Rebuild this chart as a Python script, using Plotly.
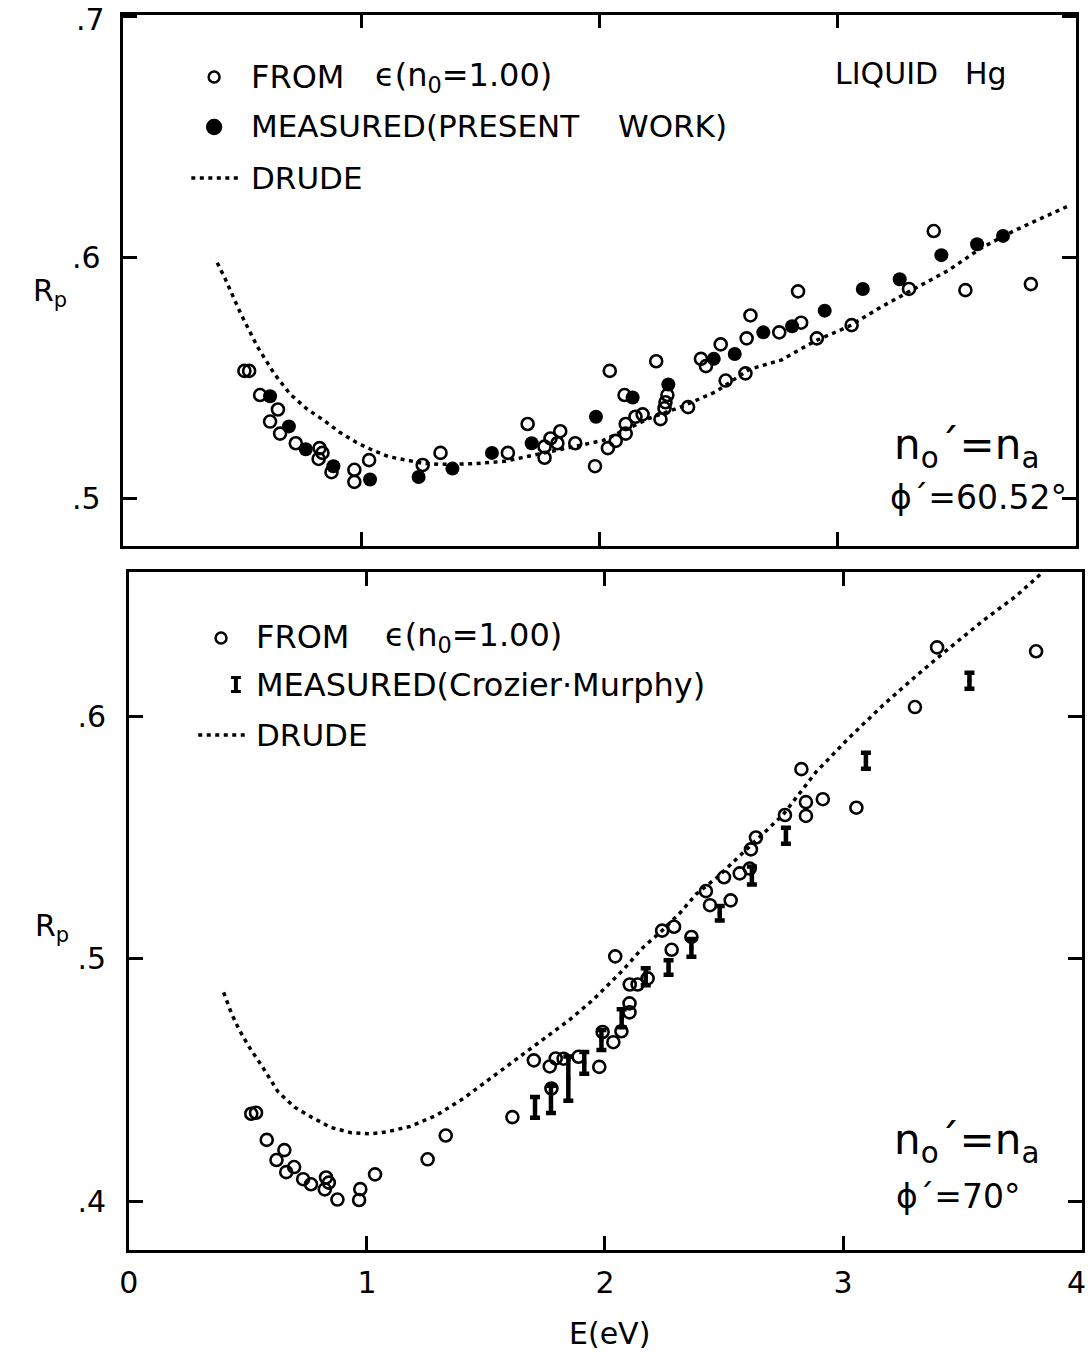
import plotly.graph_objects as go

# ---------------- Top panel (phi' = 60.52 deg) ----------------
top_open_E = [0.508, 0.528, 0.574, 0.649, 0.616, 0.658, 0.724, 0.824, 0.836, 0.820,
              0.874, 0.970, 0.970, 1.032, 1.257, 1.332, 1.615, 1.698, 1.769, 1.769,
              1.794, 1.823, 1.835, 1.898, 1.981, 2.043, 2.035, 2.068, 2.110, 2.110,
              2.151, 2.181, 2.105, 2.256, 2.273, 2.277, 2.285, 2.238, 2.372, 2.426,
              2.447, 2.509, 2.530, 2.613, 2.618, 2.634, 2.755, 2.847, 2.834, 2.913,
              3.059, 3.300, 3.537, 3.812, 3.404]
top_open_R = [0.553, 0.553, 0.543, 0.537, 0.532, 0.527, 0.523, 0.521, 0.519, 0.5165,
              0.511, 0.512, 0.507, 0.516, 0.514, 0.519, 0.519, 0.531, 0.517, 0.5216,
              0.525, 0.523, 0.528, 0.523, 0.5135, 0.553, 0.521, 0.524, 0.527, 0.531,
              0.534, 0.535, 0.543, 0.533, 0.5375, 0.540, 0.543, 0.557, 0.538, 0.558,
              0.555, 0.564, 0.549, 0.552, 0.5665, 0.576, 0.569, 0.573, 0.586, 0.5665,
              0.572, 0.587, 0.5865, 0.589, 0.611]

top_meas_E = [0.616, 0.695, 0.766, 0.882, 1.036, 1.240, 1.382, 1.548, 1.715, 1.985,
              2.139, 2.289, 2.480, 2.568, 2.688, 2.809, 2.946, 3.106, 3.261, 3.436,
              3.586, 3.695]
top_meas_R = [0.5425, 0.530, 0.5205, 0.5135, 0.508, 0.509, 0.5125, 0.519, 0.523, 0.534,
              0.542, 0.5474, 0.558, 0.560, 0.569, 0.5715, 0.578, 0.587, 0.591, 0.601,
              0.6055, 0.609]

top_drude_E = [0.394, 0.427, 0.493, 0.563, 0.634, 0.700, 0.771, 0.842, 0.908, 0.979,
               1.049, 1.115, 1.186, 1.256, 1.322, 1.464, 1.601, 1.739, 1.878, 2.015,
               2.211, 2.348, 2.487, 2.628, 2.765, 2.905, 3.046, 3.183, 3.321, 3.462,
               3.604, 3.741, 3.980]
top_drude_R = [0.5979, 0.5913, 0.5767, 0.5630, 0.5518, 0.5434, 0.5372, 0.5325, 0.5276, 0.5233,
               0.5200, 0.5174, 0.5161, 0.5147, 0.5143, 0.5145, 0.5155, 0.5183, 0.5214, 0.5242,
               0.5334, 0.5383, 0.5443, 0.5536, 0.5576, 0.5654, 0.5714, 0.5795, 0.5870, 0.5945,
               0.6040, 0.6111, 0.6219]

# ---------------- Bottom panel (phi' = 70 deg) ----------------
bot_open_E = [0.514, 0.534, 0.579, 0.653, 0.620, 0.694, 0.661, 0.732, 0.765, 0.828,
              0.840, 0.823, 0.876, 0.972, 0.967, 1.034, 1.255, 1.331, 1.611, 1.701,
              1.768, 1.793, 1.826, 1.889, 1.976, 1.775, 1.990, 2.035, 2.069, 2.103,
              2.103, 2.104, 2.137, 2.179, 2.043, 2.240, 2.290, 2.280, 2.363, 2.424,
              2.441, 2.528, 2.500, 2.566, 2.608, 2.613, 2.634, 2.756, 2.825, 2.844,
              2.844, 2.915, 3.056, 3.302, 3.395, 3.811]
bot_open_R = [0.436, 0.4364, 0.4252, 0.4210, 0.4169, 0.4140, 0.4119, 0.4090, 0.4069, 0.4097,
              0.4076, 0.4048, 0.4006, 0.4049, 0.4004, 0.4110, 0.4172, 0.4270, 0.4346, 0.4580,
              0.4555, 0.4588, 0.4587, 0.4595, 0.4553, 0.4464, 0.4697, 0.4655, 0.4700, 0.4778,
              0.4815, 0.4893, 0.4893, 0.4918, 0.5009, 0.5115, 0.5131, 0.5036, 0.5089, 0.5278,
              0.5220, 0.5240, 0.5335, 0.5351, 0.5371, 0.5450, 0.5499, 0.5592, 0.5781, 0.5645,
              0.5588, 0.5657, 0.5622, 0.6037, 0.6283, 0.6267]

bot_meas_E = [1.706, 1.773, 1.846, 1.913, 1.985, 2.070, 2.171, 2.267, 2.363, 2.482,
              2.617, 2.760, 3.096, 3.531]
bot_meas_R = [0.4386, 0.4419, 0.4505, 0.4570, 0.4664, 0.4754, 0.4925, 0.4963, 0.5044, 0.5187,
              0.5342, 0.5506, 0.5816, 0.6146]
bot_meas_err = [0.0043, 0.0056, 0.0091, 0.0045, 0.0041, 0.0037, 0.0035, 0.0030, 0.0037, 0.0030,
                0.0037, 0.0033, 0.0033, 0.0033]

bot_drude_E = [0.398, 0.431, 0.463, 0.504, 0.561, 0.627, 0.696, 0.767, 0.849, 0.933,
               1.016, 1.083, 1.183, 1.291, 1.404, 1.517, 1.626, 1.739, 1.852, 1.949,
               2.075, 2.160, 2.231, 2.315, 2.383, 2.467, 2.551, 2.748, 2.887, 3.030,
               3.168, 3.306, 3.420, 3.588, 3.727, 3.840]
bot_drude_R = [0.4860, 0.4773, 0.4707, 0.4637, 0.4553, 0.4450, 0.4387, 0.4346, 0.4303, 0.4282,
               0.4277, 0.4285, 0.4308, 0.4353, 0.4422, 0.4504, 0.4585, 0.4667, 0.4748, 0.4829,
               0.4952, 0.5046, 0.5107, 0.5188, 0.5266, 0.5331, 0.5409, 0.5593, 0.5770, 0.5915,
               0.6045, 0.6165, 0.6259, 0.6393, 0.6495, 0.6594]

# Tick labels (the ones sitting on the page edge are drawn as annotations)
x_ticks = [0, 1, 2, 3, 4]
x_ticktext = ["0", "1", "2", "3", ""]
x_edge_label = "4"
top_y_ticks = [0.5, 0.6, 0.7]
top_y_text = [".5", ".6", ""]
top_y_edge_label = ".7"
bot_y_ticks = [0.4, 0.5, 0.6]
bot_y_text = [".4", ".5", ".6"]

W, H = 1088, 1354
FONT = "DejaVu Sans"
DOT = "4px,4.5px"

def px(x):
    return x / W

def py(y):
    return 1 - y / H

fig = go.Figure()

# Top panel traces
fig.add_trace(go.Scatter(x=top_drude_E, y=top_drude_R, mode="lines",
                         line=dict(color="black", width=3.5, dash=DOT),
                         xaxis="x", yaxis="y", showlegend=False))
fig.add_trace(go.Scatter(x=top_open_E, y=top_open_R, mode="markers",
                         marker=dict(symbol="circle-open", size=12, color="black",
                                     line=dict(width=2.6, color="black")),
                         xaxis="x", yaxis="y", showlegend=False))
fig.add_trace(go.Scatter(x=top_meas_E, y=top_meas_R, mode="markers",
                         marker=dict(symbol="circle", size=14, color="black"),
                         xaxis="x", yaxis="y", showlegend=False))

# Bottom panel traces
fig.add_trace(go.Scatter(x=bot_drude_E, y=bot_drude_R, mode="lines",
                         line=dict(color="black", width=3.5, dash=DOT),
                         xaxis="x2", yaxis="y2", showlegend=False))
fig.add_trace(go.Scatter(x=bot_open_E, y=bot_open_R, mode="markers",
                         marker=dict(symbol="circle-open", size=12, color="black",
                                     line=dict(width=2.6, color="black")),
                         xaxis="x2", yaxis="y2", showlegend=False))
fig.add_trace(go.Scatter(x=bot_meas_E, y=bot_meas_R, mode="markers",
                         marker=dict(symbol="line-ns", size=2, color="black",
                                     line=dict(width=4, color="black")),
                         error_y=dict(type="data", array=bot_meas_err, visible=True,
                                      color="black", thickness=4.5, width=5),
                         xaxis="x2", yaxis="y2", showlegend=False))

axis_common = dict(showgrid=False, zeroline=False, showline=True, linecolor="black",
                   linewidth=2.5, mirror="ticks", ticks="inside", ticklen=14,
                   tickwidth=2.5, tickcolor="black",
                   tickfont=dict(family=FONT, size=30, color="black"))

fig.update_layout(
    width=W, height=H,
    margin=dict(l=0, r=0, t=0, b=0),
    paper_bgcolor="white", plot_bgcolor="white",
    showlegend=False,
    xaxis=dict(domain=[px(114.5), px(1075.5)], range=[0, 4], anchor="y",
               tickvals=[1, 2, 3], showticklabels=False, **axis_common),
    yaxis=dict(domain=[py(546), py(14.5)], range=[0.4804, 0.7008], anchor="x",
               tickvals=top_y_ticks, ticktext=top_y_text, ticklabelstandoff=14,
               **axis_common),
    xaxis2=dict(domain=[px(120), px(1082)], range=[0, 4.004], anchor="y2",
                tickvals=x_ticks, ticktext=x_ticktext, ticklabelstandoff=4,
                **axis_common),
    yaxis2=dict(domain=[py(1250), py(572)], range=[0.3798, 0.6594], anchor="x2",
                tickvals=bot_y_ticks, ticktext=bot_y_text, ticklabelstandoff=14,
                **axis_common),
)

def text(t, x, y, size=32, anchor="left", yanchor="middle"):
    fig.add_annotation(text=t, x=px(x), y=py(y), xref="paper", yref="paper",
                       xanchor=anchor, yanchor=yanchor, showarrow=False,
                       font=dict(family=FONT, size=size, color="black"))

# Edge tick labels
text(top_y_edge_label, 98, 0, size=30, anchor="right", yanchor="top")
text(x_edge_label, 1088, 1282, size=30, anchor="right")

# Top legend text
text("FROM", 241, 77)
text("ϵ(n<sub>0</sub>=1.00)", 366, 77)
text("MEASURED(PRESENT", 241, 126, size=31)
text("WORK)", 612, 126, size=31)
text("DRUDE", 241, 178, size=31)
text("LIQUID", 831, 73, size=30)
text("Hg", 962, 73, size=30)
text("n<sub>o</sub>´=n<sub>a</sub>", 890, 447, size=42)
text("ϕ´=60.52°", 886, 497, size=33)

# Bottom legend text
text("FROM", 246, 637)
text("ϵ(n<sub>0</sub>=1.00)", 376, 637)
text("MEASURED(Crozier·Murphy)", 246, 685, size=32)
text("DRUDE", 246, 735, size=31)
text("n<sub>o</sub>´=n<sub>a</sub>", 890, 1142, size=42)
text("ϕ´=70°", 892, 1196, size=33)

# Axis titles
text("R<sub>p</sub>", 40, 292, size=30, anchor="center")
text("R<sub>p</sub>", 42, 927, size=30, anchor="center")
text("E(eV)", 605, 1333, size=30, anchor="center")

# Legend symbols (decorations in paper coordinates)
def circ(cx, cy, d, filled):
    fig.add_shape(type="circle", xref="paper", yref="paper",
                  x0=px(cx - d / 2), x1=px(cx + d / 2), y0=py(cy + d / 2), y1=py(cy - d / 2),
                  line=dict(color="black", width=2.5),
                  fillcolor="black" if filled else "rgba(0,0,0,0)")

def seg(x0, y0, x1, y1, w, dash=None):
    fig.add_shape(type="line", xref="paper", yref="paper",
                  x0=px(x0), y0=py(y0), x1=px(x1), y1=py(y1),
                  line=dict(color="black", width=w, dash=dash))

circ(206, 77, 11, False)
circ(206, 127, 14, True)
seg(183, 178, 232, 178, 3.5, DOT)

circ(213, 638, 11, False)
seg(228, 677, 228, 692, 4)
seg(223, 677.5, 233, 677.5, 3)
seg(223, 691.5, 233, 691.5, 3)
seg(190, 735, 240, 735, 3.5, DOT)

fig.write_html("out.html", config={"displayModeBar": False})
